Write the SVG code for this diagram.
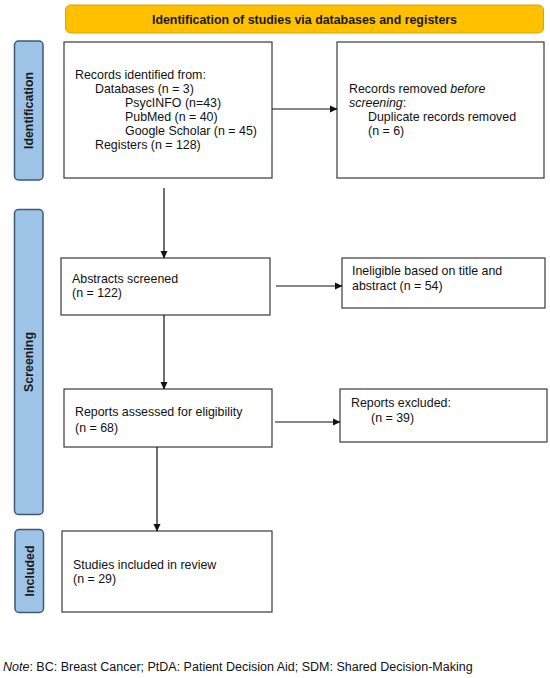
<svg xmlns="http://www.w3.org/2000/svg" width="550" height="678" viewBox="0 0 550 678">
<defs>
<style>
.box{fill:#fff;stroke:#3a3a3a;stroke-width:1.2}
.side{fill:#9DC3E6;stroke:#3c5a78;stroke-width:1.5}
.t{font-family:"Liberation Sans",Arial,sans-serif;font-size:12.4px;fill:#111}
.st{font-family:"Liberation Sans",Arial,sans-serif;font-size:12.4px;font-weight:bold;fill:#1a1a1a}
.ln{stroke:#111;stroke-width:1.2;fill:none;marker-end:url(#ah)}
</style>
<marker id="ah" markerWidth="8" markerHeight="8" refX="7" refY="4" orient="auto" markerUnits="userSpaceOnUse">
<path d="M0,0.5 L7.5,4 L0,7.5 Z" fill="#111"/>
</marker>
</defs>
<rect width="550" height="678" fill="#fff"/>
<g id="header">
<rect x="65.5" y="5" width="478" height="28" rx="5" fill="#FFC000" stroke="#d9a400" stroke-width="1"/>
<text x="304.5" y="23.5" text-anchor="middle" class="st">Identification of studies via databases and registers</text>
</g>
<g id="side-identification">
<rect x="14.5" y="41" width="28.5" height="139" rx="4" class="side"/>
<text class="st" transform="translate(33,110.5) rotate(-90)" text-anchor="middle">Identification</text>
</g>
<g id="side-screening">
<rect x="14.5" y="209.5" width="28.5" height="305" rx="4" class="side"/>
<text class="st" transform="translate(33,362) rotate(-90)" text-anchor="middle">Screening</text>
</g>
<g id="side-included">
<rect x="15" y="529.5" width="28.5" height="83" rx="4" class="side"/>
<text class="st" transform="translate(33.5,571) rotate(-90)" text-anchor="middle">Included</text>
</g>
<g id="records">
<rect x="64" y="42" width="208" height="136" class="box"/>
<text class="t"><tspan x="75" y="79">Records identified from:</tspan><tspan x="95" y="93">Databases (n = 3)</tspan><tspan x="125" y="107">PsycINFO (n=43)</tspan><tspan x="125" y="121">PubMed (n = 40)</tspan><tspan x="125" y="135">Google Scholar (n = 45)</tspan><tspan x="95" y="149">Registers (n = 128)</tspan></text>
</g>
<g id="removed">
<rect x="337" y="42" width="207" height="136" class="box"/>
<text class="t"><tspan x="349" y="93">Records removed <tspan font-style="italic">before</tspan></tspan><tspan x="349" y="107"><tspan font-style="italic">screening</tspan>:</tspan><tspan x="368" y="121">Duplicate records removed</tspan><tspan x="368" y="135">(n = 6)</tspan></text>
</g>
<g id="abstracts">
<rect x="61" y="258" width="209" height="57" class="box"/>
<text class="t"><tspan x="72" y="283">Abstracts screened</tspan><tspan x="72" y="297">(n = 122)</tspan></text>
</g>
<g id="ineligible">
<rect x="342" y="258" width="203" height="50" class="box"/>
<text class="t"><tspan x="352" y="275">Ineligible based on title and</tspan><tspan x="352" y="290">abstract (n = 54)</tspan></text>
</g>
<g id="reports">
<rect x="64" y="389" width="208" height="58" class="box"/>
<text class="t"><tspan x="75" y="416">Reports assessed for eligibility</tspan><tspan x="75" y="432">(n = 68)</tspan></text>
</g>
<g id="excluded">
<rect x="340" y="389" width="207" height="53" class="box"/>
<text class="t"><tspan x="351" y="407">Reports excluded:</tspan><tspan x="371" y="422">(n = 39)</tspan></text>
</g>
<g id="included">
<rect x="62" y="531" width="210" height="81" class="box"/>
<text class="t"><tspan x="73" y="569">Studies included in review</tspan><tspan x="73" y="583">(n = 29)</tspan></text>
</g>
<g id="connectors">
<line x1="272" y1="109" x2="337" y2="109" class="ln"/>
<line x1="164" y1="188" x2="164" y2="258" class="ln"/>
<line x1="276" y1="286" x2="342" y2="286" class="ln"/>
<line x1="164" y1="315" x2="164" y2="389" class="ln"/>
<line x1="275" y1="422" x2="340" y2="422" class="ln"/>
<line x1="157" y1="447" x2="157" y2="531" class="ln"/>
</g>
<g id="note">
<text class="t" x="3" y="671" style="font-size:12.5px"><tspan font-style="italic">Note</tspan>: BC: Breast Cancer; PtDA: Patient Decision Aid; SDM: Shared Decision-Making</text>
</g>
</svg>
